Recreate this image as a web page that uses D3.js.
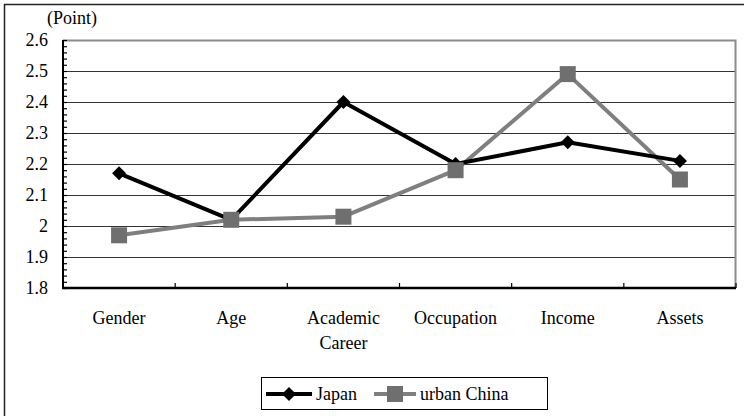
<!DOCTYPE html>
<html>
<head>
<meta charset="utf-8">
<script src="https://cdn.jsdelivr.net/npm/d3@7/dist/d3.min.js"></script>
</head>
<body style="margin:0;background:#fff">
<svg id="chart" width="744" height="416" style="display:block;font-family:'Liberation Serif','Times New Roman',Tinos,monospace"></svg>
<script>
// Category labels (multi-line labels split on "\n")
const categories = ["Gender", "Age", "Academic\nCareer", "Occupation", "Income", "Assets"];
const japan = [2.17, 2.02, 2.40, 2.20, 2.27, 2.21];
const urbanChina = [1.97, 2.02, 2.03, 2.18, 2.49, 2.15];
const yTicks = [1.8, 1.9, 2.0, 2.1, 2.2, 2.3, 2.4, 2.5, 2.6];
const yMinorTicks = d3.range(1.8, 2.6001, 0.02);

const FONT = '"Liberation Serif", "Times New Roman", Tinos, monospace';
const svg = d3.select("#chart");
const plot = { left: 63, right: 736, top: 40, bottom: 288 };

// Outer frame (left and top edges visible)
svg.append("rect")
  .attr("x", 4.5).attr("y", 4.5)
  .attr("width", 900).attr("height", 900)
  .attr("fill", "none").attr("stroke", "#222").attr("stroke-width", 1.5);

const x = d3.scaleBand().domain(categories).range([plot.left, plot.right]).padding(0);
const y = d3.scaleLinear().domain([1.8, 2.6]).range([plot.bottom, plot.top]);
const cx = d => x(d) + x.bandwidth() / 2;

// Horizontal gridlines
svg.append("g").selectAll("line")
  .data(yTicks.filter(v => v > 1.8 && v < 2.6))
  .join("line")
  .attr("x1", plot.left).attr("x2", plot.right)
  .attr("y1", d => Math.round(y(d)) + 0.5).attr("y2", d => Math.round(y(d)) + 0.5)
  .attr("stroke", "#333").attr("stroke-width", 1);

// Plot frame: top and right edges in gray
svg.append("path")
  .attr("d", `M${plot.left},${plot.top + 0.5}H${plot.right - 0.5}V${plot.bottom}`)
  .attr("fill", "none").attr("stroke", "#8c8c8c").attr("stroke-width", 2);

// Y axis with minor ticks pointing inward
const yAxisG = svg.append("g").attr("transform", `translate(${plot.left},0)`);
yAxisG.call(d3.axisRight(y).tickValues(yMinorTicks).tickSize(4).tickFormat(""))
  .call(g => g.select(".domain").remove())
  .call(g => g.selectAll("line").attr("stroke", "#000").attr("stroke-width", 1.2));
yAxisG.append("line")
  .attr("x1", 0).attr("x2", 0).attr("y1", plot.top).attr("y2", plot.bottom)
  .attr("stroke", "#000").attr("stroke-width", 2);

// Y tick labels
svg.append("g").selectAll("text")
  .data(yTicks)
  .join("text")
  .attr("x", 48).attr("y", d => y(d))
  .attr("dy", "0.35em")
  .attr("text-anchor", "end")
  .style("font-family", FONT)
  .style("font-size", "18px")
  .attr("fill", "#000")
  .text(d => d3.format("")(+d.toFixed(1)));

// Unit label
svg.append("text")
  .attr("x", 47).attr("y", 24)
  .style("font-family", FONT)
  .style("font-size", "18px").attr("fill", "#000")
  .text("(Point)");

// X axis with category boundary ticks pointing inward
const xAxisG = svg.append("g").attr("transform", `translate(0,${plot.bottom})`);
const bounds = categories.map(c => x(c)).concat([plot.right]);
xAxisG.selectAll("line.tick")
  .data(bounds.slice(1))
  .join("line")
  .attr("class", "tick")
  .attr("x1", d => d).attr("x2", d => d)
  .attr("y1", 0).attr("y2", -5)
  .attr("stroke", "#000").attr("stroke-width", 1.2);
xAxisG.append("line")
  .attr("x1", plot.left - 1).attr("x2", plot.right)
  .attr("y1", 0).attr("y2", 0)
  .attr("stroke", "#000").attr("stroke-width", 2.5);

// Category labels
svg.append("g").selectAll("text")
  .data(categories)
  .join("text")
  .attr("x", d => cx(d))
  .attr("y", 324)
  .attr("text-anchor", "middle")
  .style("font-family", FONT)
  .style("font-size", "18px")
  .attr("fill", "#000")
  .each(function (d) {
    const lines = d.split("\n");
    d3.select(this).selectAll("tspan")
      .data(lines)
      .join("tspan")
      .attr("x", cx(d))
      .attr("dy", (l, i) => i === 0 ? 0 : 25)
      .text(l => l);
  });

const line = d3.line().x((v, i) => cx(categories[i])).y(v => y(v));

// urban China series
svg.append("path")
  .datum(urbanChina)
  .attr("d", line)
  .attr("fill", "none").attr("stroke", "#7f7f7f").attr("stroke-width", 4)
  .attr("stroke-linejoin", "round");

// Japan series
svg.append("path")
  .datum(japan)
  .attr("d", line)
  .attr("fill", "none").attr("stroke", "#000").attr("stroke-width", 4)
  .attr("stroke-linejoin", "round");

const diamond = s => `M0,${-s}L${s},0L0,${s}L${-s},0Z`;

svg.append("g").selectAll("path")
  .data(japan)
  .join("path")
  .attr("transform", (v, i) => `translate(${cx(categories[i])},${y(v)})`)
  .attr("d", diamond(7))
  .attr("fill", "#000");

svg.append("g").selectAll("rect")
  .data(urbanChina)
  .join("rect")
  .attr("x", (v, i) => cx(categories[i]) - 8)
  .attr("y", v => y(v) - 8)
  .attr("width", 16).attr("height", 16)
  .attr("fill", "#6f6f6f");

// Legend
const legend = svg.append("g");
legend.append("rect")
  .attr("x", 261.5).attr("y", 377.5).attr("width", 286).attr("height", 32)
  .attr("fill", "#fff").attr("stroke", "#000").attr("stroke-width", 1);

legend.append("line")
  .attr("x1", 266).attr("x2", 312).attr("y1", 394).attr("y2", 394)
  .attr("stroke", "#000").attr("stroke-width", 4);
legend.append("path")
  .attr("transform", "translate(289,394)")
  .attr("d", diamond(7)).attr("fill", "#000");
legend.append("text")
  .attr("x", 316).attr("y", 394).attr("dy", "0.35em")
  .style("font-family", FONT)
  .style("font-size", "18px").attr("fill", "#000").text("Japan");

legend.append("line")
  .attr("x1", 374).attr("x2", 416).attr("y1", 394).attr("y2", 394)
  .attr("stroke", "#7f7f7f").attr("stroke-width", 4);
legend.append("rect")
  .attr("x", 395 - 8).attr("y", 394 - 8).attr("width", 16).attr("height", 16)
  .attr("fill", "#6f6f6f");
legend.append("text")
  .attr("x", 420).attr("y", 394).attr("dy", "0.35em")
  .style("font-family", FONT)
  .style("font-size", "18px").attr("fill", "#000").text("urban China");
</script>
</body>
</html>
